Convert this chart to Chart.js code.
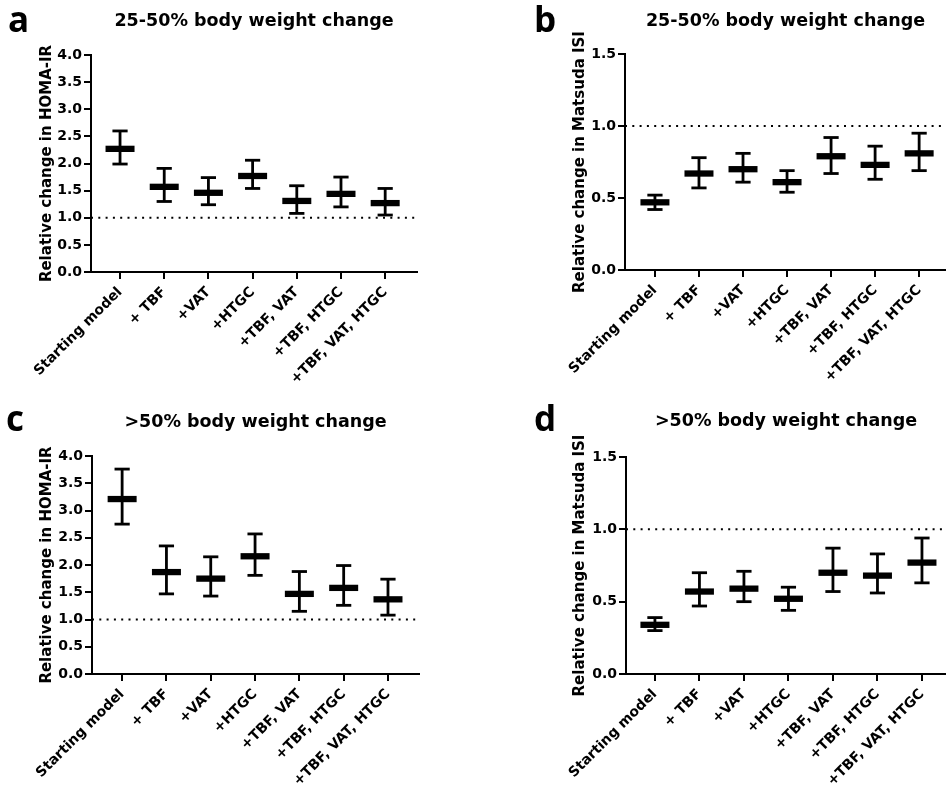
<!DOCTYPE html>
<html>
<head>
<meta charset="utf-8">
<script src="https://cdn.jsdelivr.net/npm/chart.js@4"></script>
<style>
  html, body { margin: 0; padding: 0; background: #fff; }
  body { width: 946px; height: 792px; position: relative; overflow: hidden; }
  .panel { position: absolute; width: 473px; height: 396px; }
  .letter { position: absolute; font-family: 'Open Sans', sans-serif; font-weight: 700; font-size: 35px; line-height: 35px; color: #000; }
</style>
</head>
<body>
<div class="panel" style="left:0;top:0"><canvas id="ca"></canvas></div>
<div class="panel" style="left:473px;top:0"><canvas id="cb"></canvas></div>
<div class="panel" style="left:0;top:396px"><canvas id="cc"></canvas></div>
<div class="panel" style="left:473px;top:396px"><canvas id="cd"></canvas></div>
<div class="letter" style="left:8px;top:1px">a</div>
<div class="letter" style="left:534px;top:1px">b</div>
<div class="letter" style="left:6px;top:400px">c</div>
<div class="letter" style="left:534px;top:400px">d</div>
<script>
// ---- data ----
const categories = ["Starting model", "+ TBF", "+VAT", "+HTGC", "+TBF, VAT", "+TBF, HTGC", "+TBF, VAT, HTGC"];

const titleA = "25-50% body weight change";
const titleB = "25-50% body weight change";
const titleC = ">50% body weight change";
const titleD = ">50% body weight change";

const yLabelHOMA = "Relative change in HOMA-IR";
const yLabelMatsuda = "Relative change in Matsuda ISI";

const yTicksHOMA = [0.0, 0.5, 1.0, 1.5, 2.0, 2.5, 3.0, 3.5, 4.0];
const yTicksMatsuda = [0.0, 0.5, 1.0, 1.5];
const referenceValue = 1.0;

// panel a: HOMA-IR, 25-50%
const meanA = [2.27, 1.57, 1.46, 1.77, 1.31, 1.44, 1.27];
const hiA   = [2.60, 1.91, 1.74, 2.06, 1.59, 1.75, 1.54];
const loA   = [1.99, 1.30, 1.24, 1.54, 1.08, 1.20, 1.05];
// panel b: Matsuda ISI, 25-50%
const meanB = [0.47, 0.67, 0.70, 0.61, 0.79, 0.73, 0.81];
const hiB   = [0.52, 0.78, 0.81, 0.69, 0.92, 0.86, 0.95];
const loB   = [0.42, 0.57, 0.61, 0.54, 0.67, 0.63, 0.69];
// panel c: HOMA-IR, >50%
const meanC = [3.21, 1.87, 1.75, 2.16, 1.47, 1.58, 1.37];
const hiC   = [3.76, 2.35, 2.15, 2.57, 1.88, 1.99, 1.74];
const loC   = [2.75, 1.47, 1.43, 1.81, 1.15, 1.26, 1.08];
// panel d: Matsuda ISI, >50%
const meanD = [0.34, 0.57, 0.59, 0.52, 0.70, 0.68, 0.77];
const hiD   = [0.39, 0.70, 0.71, 0.60, 0.87, 0.83, 0.94];
const loD   = [0.30, 0.47, 0.50, 0.44, 0.57, 0.56, 0.63];

// ---- styling / layout ----
Chart.defaults.font.family = "'DejaVu Sans', sans-serif";
Chart.defaults.color = '#000';
const FONT_TITLE = { family: "'DejaVu Sans', sans-serif", size: 17.5, weight: 'bold', lineHeight: 1.2 };
const FONT_YTITLE = { family: "'DejaVu Sans', sans-serif", size: 15, weight: 'bold', lineHeight: 1.2 };
const FONT_TICK = { family: "'DejaVu Sans', sans-serif", size: 14, weight: 'bold' };
const FONT_XTICK = { family: "'DejaVu Sans', sans-serif", size: 14, weight: 'bold' };

function makeChart(id, cfg) {
  const W = 473, H = 396;
  const idx = categories.map((_, i) => i);
  const whisker = [];
  idx.forEach(i => { whisker.push({x: i, y: cfg.lo[i]}, {x: i, y: cfg.hi[i]}, {x: i, y: null}); });
  const pts = arr => idx.map(i => ({x: i, y: arr[i]}));
  const titleLH = FONT_TITLE.size * FONT_TITLE.lineHeight;
  const yTitleLH = FONT_YTITLE.size * FONT_YTITLE.lineHeight;
  const padL = cfg.yTitleX - yTitleLH / 2;

  return new Chart(document.getElementById(id), {
    type: 'line',
    data: {
      datasets: [
        { data: pts(cfg.mean), showLine: false, pointStyle: 'line', pointRadius: 14.5, pointBorderWidth: 6.3, borderColor: '#000', backgroundColor: '#000' },
        { data: pts(cfg.hi), showLine: false, pointStyle: 'line', pointRadius: 7.6, pointBorderWidth: 2.8, borderColor: '#000', backgroundColor: '#000' },
        { data: pts(cfg.lo), showLine: false, pointStyle: 'line', pointRadius: 7.6, pointBorderWidth: 2.8, borderColor: '#000', backgroundColor: '#000' },
        { data: whisker, spanGaps: false, borderColor: '#000', borderWidth: 2.8, pointRadius: 0 },
        { data: [{x: cfg.xmin, y: referenceValue}, {x: cfg.xmax, y: referenceValue}], borderColor: '#000', borderWidth: 2, borderDash: [2, 5.3], pointRadius: 0 }
      ]
    },
    options: {
      responsive: true,
      maintainAspectRatio: false,
      animation: false,
      events: [],
      layout: { autoPadding: false, padding: { left: padL, right: W - cfg.R, top: 0, bottom: 0 } },
      plugins: {
        legend: { display: false },
        tooltip: { enabled: false },
        title: {
          display: true, text: cfg.title, fullSize: false, font: FONT_TITLE, color: '#000',
          padding: { top: cfg.titleY - titleLH / 2, bottom: cfg.T - cfg.titleY - titleLH / 2 }
        }
      },
      scales: {
        x: {
          type: 'linear', min: cfg.xmin, max: cfg.xmax,
          afterBuildTicks: s => { s.ticks = idx.map(i => ({value: i})); },
          afterFit: s => { s.height = H - cfg.B; },
          ticks: { autoSkip: false, minRotation: 45, maxRotation: 45, padding: 5, font: FONT_XTICK, color: '#000',
                   callback: v => categories[v] },
          grid: { drawOnChartArea: false, drawTicks: true, tickLength: 7, color: '#000', lineWidth: 2 },
          border: { display: true, color: '#000', width: 2 }
        },
        y: {
          min: cfg.yTicks[0], max: cfg.yTicks[cfg.yTicks.length - 1],
          afterBuildTicks: s => { s.ticks = cfg.yTicks.map(v => ({value: v})); },
          afterFit: s => { s.width = cfg.L - padL; },
          ticks: { padding: 2, font: FONT_TICK, color: '#000', callback: v => Number(v).toFixed(1) },
          grid: { drawOnChartArea: false, drawTicks: true, tickLength: 7, color: '#000', lineWidth: 2 },
          border: { display: true, color: '#000', width: 2 },
          title: { display: true, text: cfg.yLabel, font: FONT_YTITLE, color: '#000', padding: 0 }
        }
      }
    }
  });
}

makeChart('ca', { title: titleA, yLabel: yLabelHOMA, yTicks: yTicksHOMA, mean: meanA, hi: hiA, lo: loA,
  yTitleX: 47, L: 91, R: 417, T: 55, B: 272, titleY: 21, xmin: -0.657, xmax: 6.72 });
makeChart('cb', { title: titleB, yLabel: yLabelMatsuda, yTicks: yTicksMatsuda, mean: meanB, hi: hiB, lo: loB,
  yTitleX: 107, L: 152, R: 473, T: 54, B: 270, titleY: 21, xmin: -0.68, xmax: 6.61 });
makeChart('cc', { title: titleC, yLabel: yLabelHOMA, yTicks: yTicksHOMA, mean: meanC, hi: hiC, lo: loC,
  yTitleX: 47, L: 92, R: 419, T: 60, B: 278, titleY: 26, xmin: -0.68, xmax: 6.70 });
makeChart('cd', { title: titleD, yLabel: yLabelMatsuda, yTicks: yTicksMatsuda, mean: meanD, hi: hiD, lo: loD,
  yTitleX: 107, L: 153, R: 473, T: 61, B: 278, titleY: 25.5, xmin: -0.65, xmax: 6.54 });
</script>
</body>
</html>
